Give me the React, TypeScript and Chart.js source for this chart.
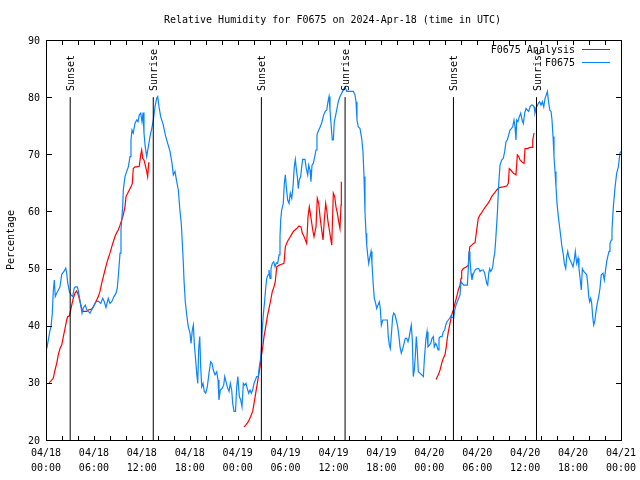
import React, { useEffect, useRef } from "react";
import { Chart, registerables } from "chart.js";

Chart.register(...registerables);

const TITLE = "Relative Humidity for F0675 on 2024-Apr-18 (time in UTC)";
const Y_TITLE = "Percentage";
const FONT = "10px 'DejaVu Sans Mono', 'Liberation Mono', monospace";

const yTicks = [20, 30, 40, 50, 60, 70, 80, 90];
const xTickHours = [0, 6, 12, 18, 24, 30, 36, 42, 48, 54, 60, 66, 72];
const xTickDates = ["04/18", "04/18", "04/18", "04/18", "04/19", "04/19", "04/19", "04/19", "04/20", "04/20", "04/20", "04/20", "04/21"];
const xTickTimes = ["00:00", "06:00", "12:00", "18:00", "00:00", "06:00", "12:00", "18:00", "00:00", "06:00", "12:00", "18:00", "00:00"];
const xMinorHours = [0, 2, 4, 6, 8, 10, 12, 14, 16, 18, 20, 22, 24, 26, 28, 30, 32, 34, 36, 38, 40, 42, 44, 46, 48, 50, 52, 54, 56, 58, 60, 62, 64, 66, 68, 70, 72];

const sunEventLabels = ["Sunset", "Sunrise", "Sunset", "Sunrise", "Sunset", "Sunrise"];
const sunEventHours = [3.03, 13.43, 26.97, 37.45, 51.02, 61.42];
const sunLineTop = 80;

const legendLabels = ["F0675 Analysis", "F0675"];
const analysisColor = "#ff0000";
const obsColor = "#0a84ff";

const obsHours = [
  0.1, 0.5, 0.63, 0.79, 0.91, 1.04, 1.16, 1.34, 1.54, 1.75, 1.97, 2.25, 2.47, 2.59, 2.72, 2.92, 3.13, 3.34, 3.54, 3.67,
  3.92, 4.04, 4.17, 4.35, 4.51, 4.67, 4.92, 5.1, 5.3, 5.51, 5.72, 5.92, 6.26, 6.55, 6.85, 7.1, 7.3, 7.51, 7.8, 8.01,
  8.23, 8.51, 8.77, 8.93, 9.1, 9.27, 9.39, 9.6, 9.68, 9.89, 10.11, 10.31, 10.52, 10.64, 10.77, 10.93, 11.14, 11.36, 11.52, 11.68,
  11.86, 12.02, 12.15, 12.27, 12.43, 12.61, 12.81, 13.02, 13.24, 13.44, 13.65, 13.86, 13.99, 14.15, 14.36, 14.69, 14.94, 15.24, 15.53, 15.78,
  15.94, 16.15, 16.37, 16.57, 16.78, 16.94, 17.05, 17.2, 17.28, 17.44, 17.62, 17.82, 18.03, 18.16, 18.32, 18.45, 18.57, 18.7, 18.87, 19.0,
  19.12, 19.25, 19.37, 19.5, 19.66, 19.82, 20.0, 20.2, 20.41, 20.62, 20.79, 20.95, 21.16, 21.38, 21.54, 21.66, 21.83, 22.04, 22.25, 22.38,
  22.54, 22.7, 22.92, 23.08, 23.25, 23.38, 23.54, 23.73, 23.88, 24.02, 24.21, 24.38, 24.54, 24.71, 24.88, 25.04, 25.21, 25.38, 25.55, 25.71,
  25.88, 26.05, 26.21, 26.38, 26.58, 26.71, 26.88, 27.01, 27.09, 27.21, 27.39, 27.51, 27.64, 27.8, 27.92, 28.05, 28.17, 28.34, 28.51, 28.68,
  28.84, 29.01, 29.18, 29.3, 29.39, 29.51, 29.71, 29.84, 29.97, 30.09, 30.26, 30.43, 30.59, 30.77, 30.93, 31.09, 31.22, 31.34, 31.47, 31.59,
  31.72, 31.89, 32.02, 32.14, 32.43, 32.59, 32.77, 32.9, 33.06, 33.18, 33.31, 33.47, 33.65, 33.81, 33.93, 34.15, 34.35, 34.56, 34.77, 34.97,
  35.15, 35.31, 35.44, 35.56, 35.72, 35.85, 35.98, 36.1, 36.28, 36.4, 36.6, 36.81, 37.03, 37.23, 37.44, 37.65, 38.48, 38.69, 38.82, 38.94,
  39.11, 39.32, 39.53, 39.69, 39.82, 39.94, 40.07, 40.16, 40.28, 40.41, 40.57, 40.7, 40.82, 40.98, 41.11, 41.28, 41.41, 41.57, 41.74, 41.86,
  41.99, 42.16, 42.74, 42.86, 42.99, 43.11, 43.29, 43.41, 43.54, 43.7, 43.86, 44.04, 44.2, 44.33, 44.49, 44.67, 44.83, 44.99, 45.17, 45.33,
  45.49, 45.62, 45.74, 45.87, 45.99, 46.12, 46.24, 46.37, 46.49, 46.62, 46.83, 47.04, 47.25, 47.4, 47.58, 47.71, 47.83, 48.0, 48.17, 48.34,
  48.5, 48.62, 48.8, 48.92, 49.09, 49.21, 49.37, 49.59, 49.75, 49.92, 50.05, 50.21, 50.38, 50.55, 50.71, 50.88, 51.05, 51.18, 51.34, 51.5,
  51.68, 51.84, 51.97, 52.13, 52.31, 52.76, 52.88, 52.97, 53.09, 53.22, 53.34, 53.47, 53.63, 53.81, 54.01, 54.18, 54.35, 54.56, 54.76, 54.93,
  55.06, 55.19, 55.31, 55.44, 55.56, 55.69, 55.81, 55.94, 56.06, 56.19, 56.31, 56.52, 56.69, 56.85, 57.06, 57.26, 57.44, 57.6, 57.76, 57.94,
  58.1, 58.27, 58.44, 58.6, 58.73, 58.85, 58.94, 59.1, 59.27, 59.44, 59.61, 59.77, 59.94, 60.11, 60.27, 60.44, 60.61, 60.77, 60.95, 61.11,
  61.23, 61.45, 61.65, 61.82, 61.99, 62.15, 62.33, 62.49, 62.65, 62.78, 62.9, 63.08, 63.24, 63.36, 63.49, 63.61, 63.74, 63.86, 63.99, 64.15,
  64.36, 64.58, 64.78, 64.9, 65.08, 65.2, 65.33, 65.45, 65.62, 65.83, 65.99, 66.15, 66.28, 66.45, 66.62, 66.74, 66.9, 67.03, 67.16, 67.33,
  67.53, 67.71, 67.83, 67.96, 68.08, 68.21, 68.33, 68.46, 68.58, 68.71, 68.87, 69.03, 69.21, 69.37, 69.53, 69.75, 69.91, 70.09, 70.21, 70.34,
  70.5, 70.62, 70.79, 70.87, 71.04, 71.26, 71.46, 71.67, 71.87, 72.0,
];
const obsValues = [
  36, 39.2, 39.8, 42.2, 46, 48, 45.1, 45.7, 46.2, 46.8, 49, 49.5, 50.1, 49.2, 47.5, 46, 45.4, 45.1, 46.6, 46.8,
  46.8, 46.2, 45.1, 43.6, 42.2, 43.1, 43.6, 42.8, 42.5, 42.2, 42.8, 43.3, 44.2, 44.3, 43.9, 44.8, 44.2, 43.2, 44.8, 43.9,
  44.2, 45.1, 45.7, 46.6, 49.5, 52.7, 56.8, 60.8, 63.75, 66.1, 67, 67.8, 69.6, 72.5, 74.25, 73.7, 75.4, 76, 75.7, 76.9,
  77.2, 75.7, 77.3, 73.7, 71.3, 69.6, 71.3, 73.1, 74.5, 76, 78.3, 79.8, 80.1, 78.3, 76.6, 75.1, 73.4, 71.9, 70.5, 68.4,
  66.4, 67, 65.2, 63.75, 60, 57.9, 55, 50.9, 48, 44.2, 41.9, 39.8, 38.7, 36.9, 39.25, 40.1, 36.9, 34.6, 31.7, 29.9,
  36, 38.1, 32.8, 29.3, 29.9, 28.5, 28.2, 29.3, 31.7, 33.7, 33.4, 32.25, 31.4, 31.95, 30.5, 27, 28.75, 29, 29.6, 31.1,
  30.2, 29.3, 28.5, 29.9, 28.75, 26.4, 25, 25, 29.3, 31.1, 27.6, 27, 25.8, 29.9, 29.6, 29.9, 29, 28.2, 28.75, 28.2,
  28.75, 29.9, 30.5, 31.1, 31.1, 32.8, 34.3, 36.9, 39.5, 41.9, 44.5, 46.6, 48.3, 48.9, 49.75, 48.3, 50, 50.9, 51.2, 50.3,
  51, 50.9, 52.4, 55.6, 58.5, 60.25, 61.4, 64.9, 66.4, 64.3, 62, 61.4, 63.2, 62.3, 64.3, 67.8, 69.1, 67.5, 66.1, 64,
  65.5, 66.1, 67.8, 69.1, 69.1, 67.5, 66.4, 68.1, 67.25, 65.2, 68.1, 68.4, 69.6, 70.75, 73.4, 74.25, 74.8, 75.7, 76.9, 77.5,
  77.75, 79.2, 80.1, 77.75, 74.8, 72.5, 72.5, 75.7, 76.9, 77.75, 79.2, 80.1, 80.7, 81.25, 81.8, 81, 81, 80.4, 79.2, 76,
  74.8, 74.5, 72.8, 70.5, 66.1, 60, 56.2, 54.1, 52.4, 50.9, 52.1, 53, 50.9, 47.1, 44.8, 43.9, 43, 43.6, 44.2, 43,
  40.1, 41, 41, 38.1, 36.6, 36, 39.25, 41.6, 42.2, 41.9, 41, 39.8, 38.1, 36.3, 35.2, 36, 36.9, 37.8, 37.8, 37.2,
  38.1, 39.25, 40.1, 37.5, 31.1, 32.25, 34.6, 38.1, 35.75, 31.95, 31.7, 31.4, 31.1, 34.6, 37.8, 38.95, 36.3, 36.6, 36.9, 37.8,
  38.1, 36.3, 36.9, 36.6, 35.75, 37.8, 38.1, 38.1, 38.95, 39.25, 40.1, 40.7, 41, 41.3, 41.7, 41.5, 41.3, 42.75, 43.6, 44.2,
  44.8, 45.4, 47.7, 47.4, 47.1, 47.1, 50, 53, 51.5, 49.2, 48, 48.9, 49.5, 49.9, 50, 50, 49.5, 49.75, 49.75, 49.2,
  48.3, 47.4, 47.1, 49.2, 50, 49.5, 49.75, 50.3, 51.8, 52.7, 55, 59.7, 64.9, 68.1, 69, 69.3, 70.5, 72.2, 72.5, 73.4,
  74.25, 74.5, 74.8, 76, 74.8, 72.5, 76, 75.7, 76.6, 77.2, 76, 75.4, 77.2, 78, 77.75, 77.5, 78.3, 78.6, 78.6, 78.3,
  77.2, 78.3, 78.9, 79.2, 78.6, 79.2, 78.3, 79.8, 80.4, 81, 79.5, 77.75, 77.5, 76, 73.1, 69.6, 67, 64.3, 61.4, 59.1,
  56.75, 54.1, 52.4, 50.9, 50, 52.1, 53, 52.1, 51.5, 50.9, 50.3, 51.5, 53, 50.9, 51.8, 50, 48, 46.25, 50, 49.5,
  49.2, 48.9, 47.4, 45.1, 44.2, 44.8, 43.9, 41.6, 40.1, 40.7, 42.5, 43.9, 45.1, 46.6, 48.9, 49.2, 48, 50, 51.2, 52.1,
  53, 54.4, 55, 56.75, 60.8, 64.3, 66.7, 67.8, 70.2, 70.5,
];

const anaHours = [
  0.4, 0.91, 1.13, 1.34, 1.54, 1.75, 1.97, 2.17, 2.38, 2.59, 2.72, 2.92, 3.09, 3.22, 3.42, 3.63, 3.84, 4.04, 4.26, 4.47,
  4.67, 5.1, 5.3, 5.72, 5.92, 6.14, 6.35, 6.55, 6.76, 6.97, 7.18, 7.39, 7.6, 7.8, 8.01, 8.23, 8.43, 8.64, 8.85, 9.05,
  9.27, 9.48, 9.68, 9.89, 10.02, 10.23, 10.43, 10.64, 10.81, 10.93, 11.14, 11.36, 11.68, 11.86, 11.98, 12.11, 12.27, 12.43, 12.61, 12.73,
  12.86, 12.9,
  18,
  24.79, 25.01, 25.33, 25.63, 25.88, 26.05, 26.26, 26.46, 26.63, 26.8, 26.96, 27.14, 27.3, 27.51, 27.71, 27.92, 28.14, 28.34, 28.55, 28.71,
  28.89, 29.21, 29.51, 29.8, 29.97, 30.22, 30.47, 30.72, 30.97, 31.39, 31.68, 31.93, 32.09, 32.31, 32.64, 32.81, 32.97, 33.1, 33.22, 33.4,
  33.56, 33.81, 33.97, 34.15, 34.31, 34.47, 34.69, 34.85, 35.02, 35.15, 35.31, 35.48, 35.78, 35.98, 36.15, 36.31, 36.48, 36.65, 36.81, 36.94,
  36.98,
  43,
  48.84, 49.12, 49.34, 49.55, 49.75, 49.96, 50.12, 50.25, 50.38, 50.5, 50.63, 50.8, 51.0, 51.21, 51.43, 51.63, 51.84, 51.97, 52.05, 52.25,
  52.68, 52.88, 53.06, 53.31, 53.51, 53.72, 53.93, 54.13, 54.35, 54.56, 54.76, 54.97, 55.19, 55.39, 55.6, 55.81, 56.01, 56.22, 56.44, 56.64,
  56.85, 57.26, 57.69, 57.89, 58.01, 58.19, 58.52, 58.85, 59.02, 59.19, 59.35, 59.57, 59.86, 59.98, 60.27, 60.61, 60.9, 60.95, 61.11,
];
const anaValues = [
  30, 30.8, 32.25, 33.4, 34.9, 36, 36.6, 38.1, 39.5, 41, 41.6, 41.7, 42.75, 43.6, 44.8, 45.7, 46.1, 45.4, 44.2, 43,
  42.5, 42.5, 42.75, 42.9, 43.3, 43.9, 44.5, 45.1, 46, 47.4, 48.6, 49.75, 50.9, 51.8, 52.7, 53.8, 54.7, 55.6, 56.3, 56.75,
  57.6, 58.5, 59.4, 60.8, 62.6, 63.2, 63.75, 64.3, 64.9, 67.5, 67.8, 67.8, 67.9, 69.9, 70.75, 69.3, 69, 68.1, 67, 66.1,
  68.4, 68.6,
  null,
  22.3, 22.6, 23.2, 24.1, 25, 26.4, 28.2, 29.9, 31.4, 32.8, 34.6, 36.3, 38.1, 39.8, 41.6, 43, 44.5, 46, 46.8, 47.7,
  50.3, 50.6, 50.75, 50.9, 53.8, 54.7, 55.3, 55.9, 56.5, 57, 57.45, 57.3, 56.2, 55.6, 54.4, 59.1, 60.8, 59.7, 58.5, 56.75,
  55.6, 57.3, 62.3, 61.4, 59.1, 57.3, 55, 58.5, 61.4, 60.25, 58.2, 56.75, 54.1, 63.2, 62.6, 60.8, 59.7, 58.2, 57, 61.1,
  65.2,
  null,
  30.6, 31.4, 32.25, 33.4, 34.3, 34.9, 36.3, 37.8, 38.95, 39.8, 40.7, 41.9, 42.75, 43.9, 45.1, 46.25, 47.1, 48.3, 49.6, 50,
  50.3, 50.6, 53.8, 54.1, 54.4, 54.5, 56.75, 58.8, 59.4, 59.8, 60.25, 60.7, 61.1, 61.5, 62, 62.6, 63, 63.35, 63.75, 64.05,
  64.2, 64.3, 64.45, 64.9, 67.5, 67.25, 66.7, 66.4, 69.9, 69.6, 69, 68.7, 68.4, 71, 71, 71.2, 71.2, 72.5, 73.7,
];

const gnuplotDecor = {
  id: "gnuplotDecor",
  afterDatasetsDraw(chart: any) {
    const { ctx, chartArea: a, scales } = chart;
    const xs = scales.x;
    const ys = scales.y;
    const L = Math.round(a.left);
    const R = Math.round(a.right);
    const T = Math.round(a.top);
    const B = Math.round(a.bottom);
    ctx.save();
    ctx.strokeStyle = "#000";
    ctx.fillStyle = "#000";
    ctx.lineWidth = 1;
    ctx.font = FONT;

    // sunrise / sunset labels
    sunEventHours.forEach((h, i) => {
      const px = Math.round(xs.getPixelForValue(h));
      const top = Math.round(ys.getPixelForValue(sunLineTop));
      ctx.save();
      ctx.translate(px + 1.5, top - 6);
      ctx.rotate(-Math.PI / 2);
      ctx.textAlign = "left";
      ctx.textBaseline = "middle";
      ctx.fillText(sunEventLabels[i], 0, 0);
      ctx.restore();
    });

    // frame
    ctx.beginPath();
    ctx.rect(L + 0.5, T + 0.5, R - L, B - T);
    ctx.stroke();

    // y ticks both sides
    ctx.beginPath();
    yTicks.forEach((v) => {
      const py = Math.round(ys.getPixelForValue(v)) + 0.5;
      ctx.moveTo(L, py);
      ctx.lineTo(L + 6, py);
      ctx.moveTo(R + 1, py);
      ctx.lineTo(R - 5, py);
    });
    // x ticks top & bottom
    xMinorHours.forEach((h) => {
      const px = Math.round(xs.getPixelForValue(h)) + 0.5;
      ctx.moveTo(px, B + 1);
      ctx.lineTo(px, B - 4);
      ctx.moveTo(px, T);
      ctx.lineTo(px, T + 5);
    });
    ctx.stroke();

    // y tick labels
    ctx.textAlign = "right";
    ctx.textBaseline = "middle";
    yTicks.forEach((v) => {
      ctx.fillText(String(v), L - 6, ys.getPixelForValue(v) + 1);
    });

    // x tick labels
    ctx.textAlign = "center";
    xTickHours.forEach((h, i) => {
      const px = xs.getPixelForValue(h);
      ctx.fillText(xTickDates[i], px, B + 13);
      ctx.fillText(xTickTimes[i], px, B + 28);
    });

    // title
    ctx.fillText(TITLE, (L + R) / 2 - 1, 20);

    // y title
    ctx.save();
    ctx.translate(11, (T + B) / 2);
    ctx.rotate(-Math.PI / 2);
    ctx.textAlign = "center";
    ctx.fillText(Y_TITLE, 0, 0);
    ctx.restore();

    // legend
    const colors = [analysisColor, obsColor];
    legendLabels.forEach((lab, i) => {
      const ly = T + 10 + i * 13;
      ctx.textAlign = "right";
      ctx.fillStyle = "#000";
      ctx.fillText(lab, R - 46, ly);
      ctx.strokeStyle = colors[i];
      ctx.beginPath();
      ctx.moveTo(R - 39, ly - 0.5);
      ctx.lineTo(R - 11, ly - 0.5);
      ctx.stroke();
    });

    ctx.restore();
  },
};

export default function App() {
  const canvasRef = useRef<HTMLCanvasElement | null>(null);

  useEffect(() => {
    if (!canvasRef.current) return;
    const obsData = obsHours.map((h, i) => ({ x: h, y: obsValues[i] }));
    const anaData = anaHours.map((h, i) => ({ x: h, y: anaValues[i] }));
    const sunData: any[] = [];
    sunEventHours.forEach((h, i) => {
      sunData.push({ x: h, y: 20 });
      sunData.push({ x: h, y: sunLineTop });
      if (i < sunEventHours.length - 1) sunData.push({ x: h + 0.01, y: null });
    });

    const chart = new Chart(canvasRef.current, {
      type: "line",
      data: {
        datasets: [
          {
            label: "Sun",
            data: sunData,
            borderColor: "#000",
            borderWidth: 1,
            pointRadius: 0,
            spanGaps: false,
            order: 0,
          },
          {
            label: legendLabels[1],
            data: obsData,
            borderColor: obsColor,
            borderWidth: 1.2,
            pointRadius: 0,
            tension: 0,
            spanGaps: false,
            order: 1,
          },
          {
            label: legendLabels[0],
            data: anaData,
            borderColor: analysisColor,
            borderWidth: 1.2,
            pointRadius: 0,
            tension: 0,
            spanGaps: false,
            order: 2,
          },
        ],
      },
      options: {
        responsive: false,
        animation: false,
        devicePixelRatio: 1,
        layout: { padding: { left: 46, right: 19, top: 40, bottom: 40 } },
        plugins: {
          legend: { display: false },
          title: { display: false },
          tooltip: { enabled: false },
        },
        events: [],
        scales: {
          x: { type: "linear", min: 0, max: 72, display: false },
          y: { type: "linear", min: 20, max: 90, display: false },
        },
      },
      plugins: [gnuplotDecor],
    });
    return () => chart.destroy();
  }, []);

  return (
    <div style={{ position: "absolute", left: 0, top: 0, width: 640, height: 480, background: "#fff" }}>
      <canvas ref={canvasRef} width={640} height={480} style={{ display: "block" }} />
    </div>
  );
}
